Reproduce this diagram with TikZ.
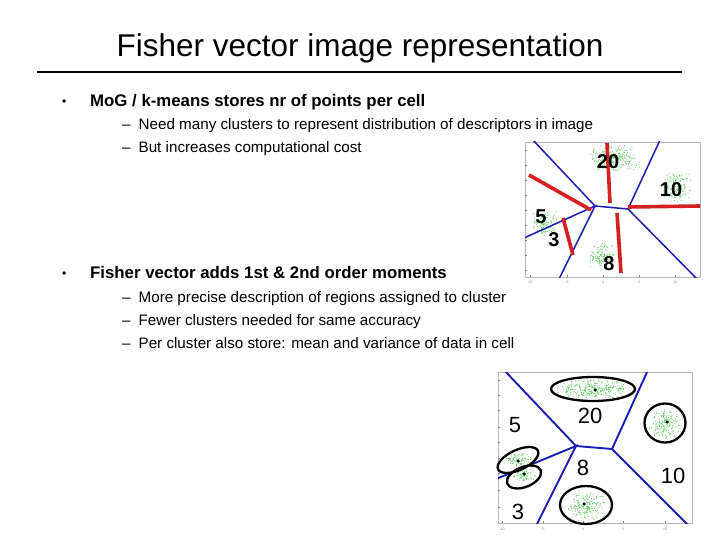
\documentclass[tikz,border=0pt]{standalone}
\usepackage{fontspec}
\setmainfont{Liberation Sans}
\usetikzlibrary{positioning}
\definecolor{FVblue}{HTML}{1C1CB4}
\definecolor{FVred}{HTML}{D42020}
\definecolor{FVgreen}{HTML}{4CC84C}
\definecolor{FVframe}{HTML}{B8B8B8}
\tikzset{fvtitle/.style={font=\fontsize{31.5}{34}\selectfont,anchor=base,inner sep=0pt},
 fvmain/.style={font=\fontsize{16.8}{19}\selectfont\bfseries,anchor=base west,inner sep=0pt},
 fvsub/.style={font=\fontsize{15.2}{17}\selectfont,anchor=base west,inner sep=0pt},
 fvdot/.style={font=\fontsize{12}{14}\selectfont,anchor=base west,inner sep=0pt},
 fvcell/.style={draw=FVblue,line width=1.5pt},
 fvbar/.style={draw=FVred,line width=3.6pt},
 fvcount/.style={font=\fontsize{20}{22}\selectfont\bfseries,inner sep=0pt},
 fvnum/.style={font=\fontsize{22}{24}\selectfont,inner sep=0pt},
 fvgauss/.style={draw=black,line width=2.3pt},
 fvmean/.style={circle,fill=black,inner sep=0pt,minimum size=3.5pt},
 fvtick/.style={font=\fontsize{3.5}{4}\selectfont,text=gray,inner sep=0pt}}
\newcommand\fvscatter[5]{\foreach \k in {1,...,#5}
 {\fill[FVgreen] ({#1+#3*(rand+rand)/1.6},{#2+#4*(rand+rand)/1.6}) circle (0.5pt);}}

\begin{document}
\begin{tikzpicture}[x=1pt,y=-1pt]
\useasboundingbox (0,0) rectangle (720,540);
\fill[white] (0,0) rectangle (720,540);
\pgfmathsetseed{11}
% title and rule
\node[fvtitle] (title) at (360,57) {Fisher vector image representation};
\draw[line width=2.4pt] (37,72) -- (682,72);
% first bullet
\node[fvdot] (dot1) at (62,106) {•};
\node[fvmain] (mog) at (90,107) {MoG / k-means stores nr of points per cell};
\node[fvsub] (need) at (122,130) {–\hspace{8pt}Need many clusters to represent distribution of descriptors in image};
\node[fvsub] (cost) at (122,153) {–\hspace{8pt}But increases computational cost};
% second bullet
\node[fvdot] (dot2) at (62,277) {•};
\node[fvmain] (fisher) at (90,278) {Fisher vector adds 1st \& 2nd order moments};
\node[fvsub] (precise) at (122,302) {–\hspace{8pt}More precise description of regions assigned to cluster};
\node[fvsub] (fewer) at (122,325) {–\hspace{8pt}Fewer clusters needed for same accuracy};
\node[fvsub] (store) at (122,348) {–\hspace{8pt}Per cluster also store: mean and variance of data in cell};
% upper plot: counts per cell
\draw[FVframe,line width=0.5pt] (525,142) rectangle (700,277);
\foreach \t in {150,165,...,270} \draw[gray] (525,\t) -- (527,\t);
\foreach \x/\v in {530/-10,567/-5,603/0,639/5,675/10}
 {\draw[gray] (\x,277) -- (\x,275); \node[fvtick] at (\x,282) {\v};}
\fvscatter{615}{158}{22}{11}{260}
\fvscatter{676}{187}{13}{13}{170}
\fvscatter{545}{223}{11}{11}{140}
\fvscatter{601}{256}{11}{11}{150}
\begin{scope}
\clip (525,142) rectangle (700,277);
\coordinate (kA) at (595,206);
\coordinate (kB) at (628,209);
\draw[fvcell] (531,138) -- (kA) -- (kB) -- (661,138);
\draw[fvcell] (524,238) -- (kA) -- (559,279);
\draw[fvcell] (kB) -- (697,279);
\end{scope}
\draw[fvbar] (529,175) -- (591,210);
\draw[fvbar] (607,143) -- (610,203);
\draw[fvbar] (628,207) -- (700,206);
\draw[fvbar] (617,213) -- (621,273);
\draw[fvbar] (563,218) -- (573,255);
\node[fvcount] (k20) at (608,162) {20};
\node[fvcount] (k10) at (671,190) {10};
\node[fvcount] (k5) at (541,217) {5};
\node[fvcount] (k3) at (554,240) {3};
\node[fvcount] (k8) at (609,264) {8};
% lower plot: gaussians per cell
\draw[FVframe,line width=0.5pt] (498,372) rectangle (692,523);
\foreach \t in {380,395,410,427,442,458,473,490,507} \draw[gray] (498,\t) -- (500,\t);
\foreach \x/\v in {502/-10,543/-5,583/0,623/5,665/10}
 {\draw[gray] (\x,523) -- (\x,521); \node[fvtick] at (\x,529) {\v};}
\fvscatter{593}{389}{30}{8}{320}
\fvscatter{665}{423}{14}{13}{180}
\fvscatter{586}{505}{16}{13}{200}
\fvscatter{518}{460}{13}{6}{90}
\fvscatter{524}{475}{11}{6}{80}
\begin{scope}
\clip (498,372) rectangle (692,523);
\coordinate (gA) at (576,446);
\coordinate (gB) at (612,449);
\draw[fvcell,line width=1.9pt] (504,370) -- (gA) -- (gB) -- (648,370);
\draw[fvcell,line width=1.9pt] (496,479) -- (gA) -- (536,526);
\draw[fvcell,line width=1.9pt] (gB) -- (689,526);
\end{scope}
\node[fvmean] (m20) at (595,390) {};
\node[fvmean] (m10) at (667,422) {};
\node[fvmean] (m8) at (584,504) {};
\node[fvmean] (m5) at (518,461) {};
\node[fvmean] (m3) at (524,474) {};
\draw[fvgauss] (593,389) ellipse [x radius=42,y radius=12];
\draw[fvgauss] (665,423) ellipse [x radius=20.5,y radius=19.5];
\draw[fvgauss] (586,505) ellipse [x radius=26,y radius=19];
\draw[fvgauss,rotate around={25:(518,460)}] (518,460) ellipse [x radius=22,y radius=10];
\draw[fvgauss,rotate around={22:(524,477)}] (524,477) ellipse [x radius=18,y radius=10];
\node[fvnum] (n5) at (515,425) {5};
\node[fvnum] (n20) at (590,416) {20};
\node[fvnum] (n8) at (583,468) {8};
\node[fvnum] (n10) at (673,476) {10};
\node[fvnum] (n3) at (518,512) {3};
\end{tikzpicture}
\end{document}
